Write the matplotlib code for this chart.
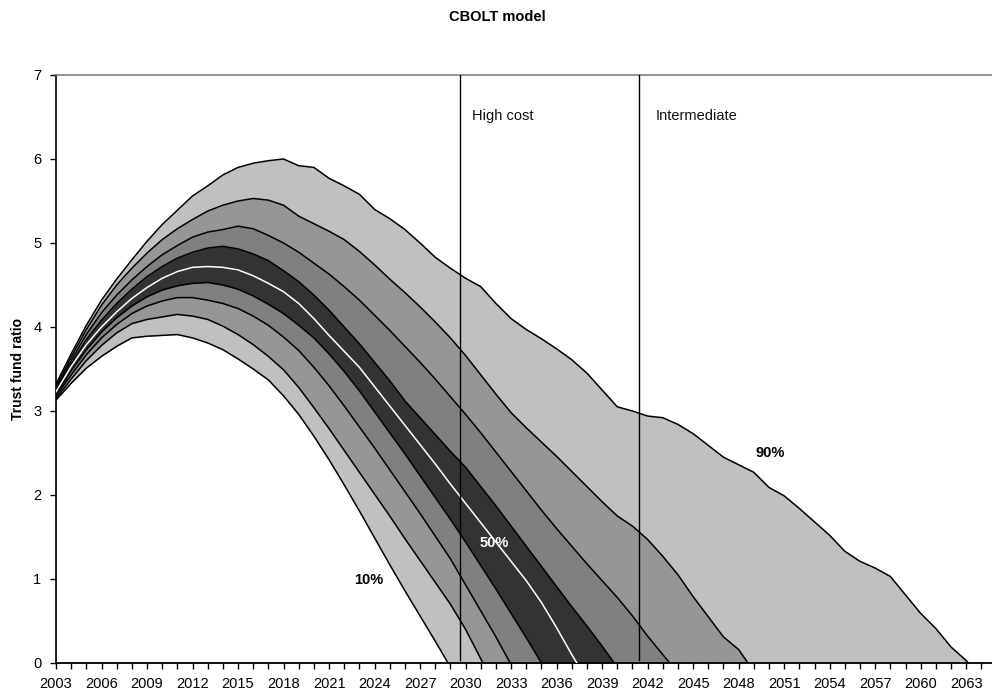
import numpy as np
import matplotlib
matplotlib.use("Agg")
import matplotlib.pyplot as plt
from matplotlib.ticker import MultipleLocator

plt.rcParams['font.family'] = ['Liberation Sans', 'DejaVu Sans']

years = list(range(2003, 2065))

p10 = [3.13, 3.33, 3.51, 3.65, 3.77, 3.87, 3.89, 3.90, 3.91, 3.87, 3.81, 3.73, 3.62, 3.50,
       3.37, 3.18, 2.96, 2.70, 2.42, 2.12, 1.81, 1.49, 1.17, 0.86, 0.56, 0.26, -0.05]
p20 = [3.15, 3.38, 3.60, 3.78, 3.93, 4.04, 4.09, 4.12, 4.15, 4.13, 4.09, 4.01, 3.91, 3.79,
       3.65, 3.49, 3.28, 3.04, 2.79, 2.53, 2.27, 2.01, 1.75, 1.48, 1.22, 0.96, 0.70, 0.40,
       0.05, -0.30]
p30 = [3.18, 3.43, 3.67, 3.87, 4.03, 4.16, 4.25, 4.31, 4.35, 4.35, 4.32, 4.28, 4.22, 4.13,
       4.02, 3.88, 3.72, 3.52, 3.30, 3.06, 2.81, 2.56, 2.30, 2.04, 1.78, 1.51, 1.24, 0.93,
       0.62, 0.31, -0.02]
p40 = [3.20, 3.48, 3.73, 3.94, 4.11, 4.25, 4.36, 4.44, 4.49, 4.52, 4.53, 4.50, 4.45, 4.37,
       4.27, 4.16, 4.02, 3.87, 3.68, 3.47, 3.24, 2.99, 2.74, 2.49, 2.23, 1.97, 1.71, 1.44,
       1.16, 0.88, 0.59, 0.30, 0.00, -0.30]
p50 = [3.23, 3.53, 3.79, 4.00, 4.18, 4.34, 4.47, 4.58, 4.66, 4.71, 4.72, 4.71, 4.68, 4.61,
       4.52, 4.42, 4.28, 4.10, 3.90, 3.71, 3.52, 3.29, 3.06, 2.83, 2.60, 2.37, 2.13, 1.90,
       1.67, 1.44, 1.21, 0.98, 0.72, 0.42, 0.10, -0.20]
p60 = [3.24, 3.56, 3.85, 4.08, 4.28, 4.45, 4.60, 4.72, 4.82, 4.89, 4.94, 4.96, 4.93, 4.87,
       4.79, 4.67, 4.54, 4.38, 4.20, 4.00, 3.80, 3.58, 3.36, 3.12, 2.92, 2.72, 2.52, 2.33,
       2.10, 1.87, 1.63, 1.39, 1.15, 0.91, 0.67, 0.44, 0.20, -0.05]
p70 = [3.26, 3.60, 3.91, 4.17, 4.38, 4.56, 4.72, 4.86, 4.97, 5.07, 5.13, 5.16, 5.20, 5.17,
       5.09, 5.00, 4.89, 4.76, 4.63, 4.48, 4.32, 4.14, 3.96, 3.77, 3.58, 3.38, 3.17, 2.96,
       2.74, 2.51, 2.28, 2.05, 1.82, 1.60, 1.39, 1.18, 0.98, 0.78, 0.56, 0.32, 0.10, -0.12]
p80 = [3.29, 3.64, 3.97, 4.26, 4.50, 4.70, 4.88, 5.04, 5.17, 5.28, 5.38, 5.45, 5.50, 5.53,
       5.51, 5.45, 5.32, 5.23, 5.14, 5.04, 4.90, 4.74, 4.57, 4.41, 4.24, 4.06, 3.87, 3.66,
       3.43, 3.20, 2.98, 2.80, 2.63, 2.46, 2.28, 2.10, 1.92, 1.75, 1.63, 1.47, 1.27, 1.05,
       0.79, 0.55, 0.31, 0.16, -0.10]
p90 = [3.32, 3.68, 4.02, 4.32, 4.57, 4.80, 5.02, 5.22, 5.39, 5.56, 5.68, 5.81, 5.90, 5.95,
       5.98, 6.00, 5.92, 5.90, 5.77, 5.68, 5.58, 5.40, 5.29, 5.16, 5.00, 4.83, 4.70, 4.58,
       4.48, 4.28, 4.10, 3.97, 3.86, 3.74, 3.61, 3.45, 3.25, 3.05, 3.00, 2.94, 2.92, 2.84,
       2.73, 2.59, 2.45, 2.36, 2.27, 2.09, 1.99, 1.84, 1.68, 1.52, 1.33, 1.21, 1.13, 1.03,
       0.81, 0.59, 0.41, 0.19, 0.03, -0.20]

scenario_years = [2029.65, 2041.45]
scenario_labels = ["High cost", "Intermediate"]
scenario_label_x = [2030.4, 2042.55]
yticks = list(range(0, 8))
xtick_labels = list(range(2003, 2064, 3))

def pad(v):
    a = np.full(len(years), np.nan)
    a[:len(v)] = v
    return a

x = np.array(years, dtype=float)
series = {10: pad(p10), 20: pad(p20), 30: pad(p30), 40: pad(p40), 50: pad(p50),
          60: pad(p60), 70: pad(p70), 80: pad(p80), 90: pad(p90)}

LIGHT, MID, DARK1, DARK2 = "#C0C0C0", "#969696", "#808080", "#333333"
layer_colors = [(90, LIGHT), (80, MID), (70, DARK1), (60, DARK2),
                (40, DARK1), (30, MID), (20, LIGHT), (10, "white")]

fig = plt.figure(figsize=(9.92, 6.96), dpi=100)
ax = fig.add_axes([56/992, 1-663/696, 1-56/992, (663-75)/696])

for k, c in layer_colors:
    ax.fill_between(x, 0, series[k], color=c, lw=0, zorder=1)

for k in [10, 20, 30, 40, 60, 70, 80, 90]:
    ax.plot(x, series[k], color="black", lw=1.1, zorder=3)
ax.plot(x, series[50], color="white", lw=1.1, zorder=4)

for sx, lab, lx in zip(scenario_years, scenario_labels, scenario_label_x):
    ax.plot([sx, sx], [0.03, 7], color="black", lw=1.0, zorder=5)
    ax.text(lx, 6.51, lab, fontsize=10.5, va="center", ha="left", color="#111111")

ax.text(2023.6, 0.99, "10%", fontsize=10.5, fontweight="bold", ha="center", va="center", zorder=6)
ax.text(2031.9, 1.43, "50%", fontsize=10.5, fontweight="bold", ha="center", va="center",
        color="white", zorder=6)
ax.text(2050.1, 2.50, "90%", fontsize=10.5, fontweight="bold", ha="center", va="center", zorder=6)

ax.set_xlim(2003, 2064.7)
ax.set_ylim(0, 7)
ax.set_yticks(yticks)
ax.set_xticks(xtick_labels)
ax.set_xticklabels([str(v) for v in xtick_labels])
ax.xaxis.set_minor_locator(MultipleLocator(1))
ax.tick_params(axis="x", which="both", direction="out", length=4, width=1, labelsize=10.5, pad=6)
ax.tick_params(axis="y", direction="out", length=4, width=1, labelsize=10.5, pad=6.5)

ax.spines["right"].set_visible(False)
ax.spines["top"].set_color("#808080")
ax.spines["top"].set_linewidth(1.2)
ax.spines["left"].set_linewidth(1.2)
ax.spines["bottom"].set_linewidth(1.3)
ax.set_ylabel("Trust fund ratio", fontsize=10, fontweight="bold")
ax.yaxis.set_label_coords((25-56)/936, 0.5)

fig.text(497/992, 1-17/696, "CBOLT model", fontsize=10.5, fontweight="bold",
         ha="center", va="center")

fig.savefig("out.png", dpi=100)
